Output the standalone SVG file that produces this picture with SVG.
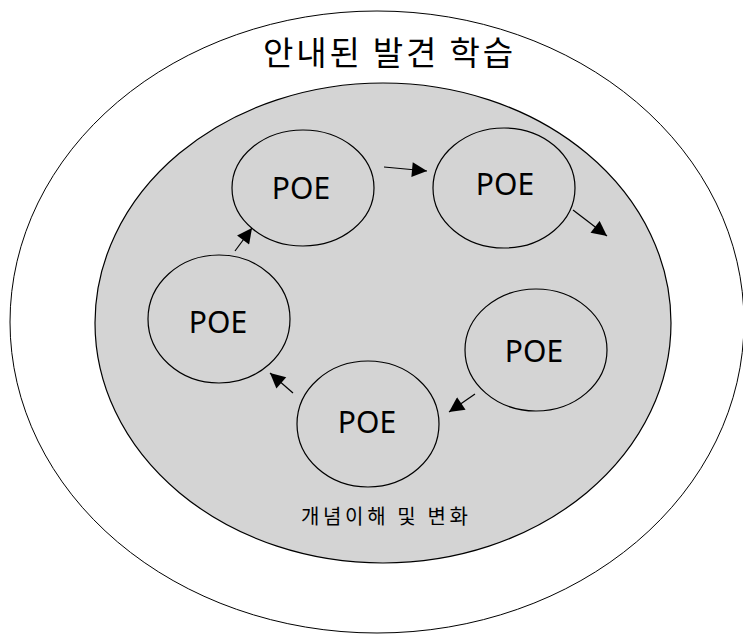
<svg xmlns="http://www.w3.org/2000/svg" width="743" height="635" viewBox="0 0 743 635">
  <style>
    .outer { fill: #ffffff; stroke: #000000; stroke-width: 1; }
    .inner { fill: #d4d4d4; stroke: #000000; stroke-width: 1.2; }
    .node { fill: #d4d4d4; stroke: #000000; stroke-width: 1.2; }
    .lbl { font-family: "Noto Sans", "Open Sans", sans-serif; font-size: 30px; fill: #000000; text-anchor: middle; }
    .ko { font-family: "Noto Sans CJK KR", sans-serif; fill: #000000; }
    .edge { stroke: #000000; stroke-width: 1.2; fill: none; marker-end: url(#head); }
  </style>
  <defs>
    <marker id="head" viewBox="0 0 10 10" refX="10" refY="5" markerWidth="17" markerHeight="15" markerUnits="userSpaceOnUse" orient="auto">
      <path d="M0,0 L10,5 L0,10 Z" fill="#000000"/>
    </marker>
  </defs>

  <rect width="743" height="635" fill="#ffffff"/>

  <!-- outer boundary: guided discovery learning -->
  <g id="outer">
    <ellipse class="outer" cx="377" cy="322" rx="367" ry="311"/>
    <text class="ko" x="263" y="65" font-size="33" textLength="250" lengthAdjust="spacing">안내된 발견 학습</text>
  </g>

  <!-- inner region: concept understanding and change -->
  <g id="inner">
    <ellipse class="inner" cx="383" cy="323" rx="288" ry="240"/>
    <text class="ko" x="301" y="524" font-size="20" textLength="167" lengthAdjust="spacing">개념이해 및 변화</text>
  </g>

  <g id="poe1">
    <ellipse class="node" cx="303" cy="188" rx="71" ry="58"/>
    <text class="lbl" x="301" y="199">POE</text>
  </g>
  <g id="poe2">
    <ellipse class="node" cx="504" cy="188" rx="71" ry="60"/>
    <text class="lbl" x="505" y="195">POE</text>
  </g>
  <g id="poe3">
    <ellipse class="node" cx="536" cy="350" rx="71" ry="61"/>
    <text class="lbl" x="534" y="362">POE</text>
  </g>
  <g id="poe4">
    <ellipse class="node" cx="368" cy="424" rx="71" ry="63"/>
    <text class="lbl" x="367" y="433">POE</text>
  </g>
  <g id="poe5">
    <ellipse class="node" cx="219" cy="319" rx="71" ry="64"/>
    <text class="lbl" x="218" y="333">POE</text>
  </g>

  <g id="connectors">
    <line class="edge" x1="384" y1="167" x2="427" y2="171"/>
    <line class="edge" x1="573" y1="210" x2="607" y2="236"/>
    <line class="edge" x1="475" y1="394" x2="449" y2="412"/>
    <line class="edge" x1="293" y1="393" x2="270" y2="373"/>
    <line class="edge" x1="235" y1="251" x2="252" y2="228"/>
  </g>
</svg>
